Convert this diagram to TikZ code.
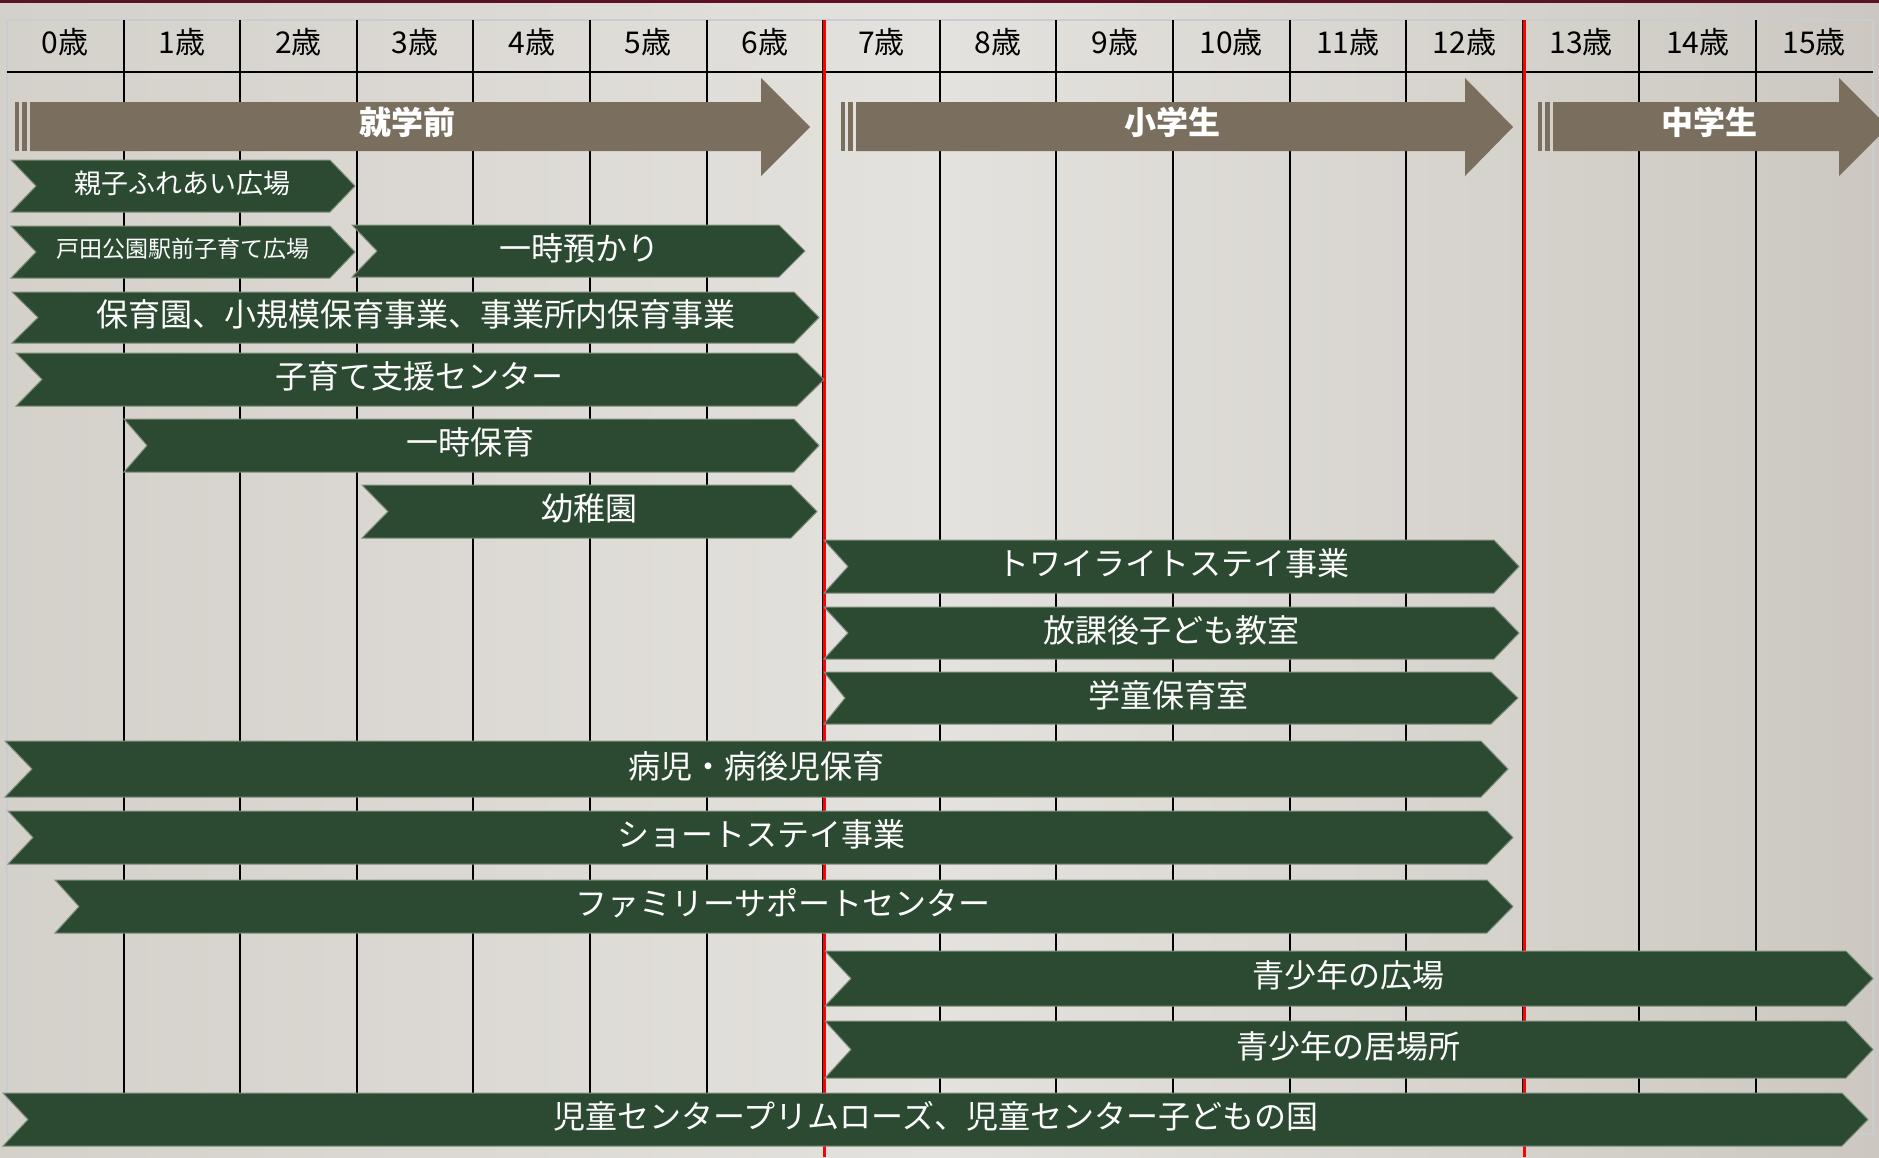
\documentclass[tikz,border=0pt]{standalone}
\usepackage{fontspec}
\setmainfont{Noto Sans CJK JP}
\definecolor{barg}{HTML}{2C4A31}
\definecolor{baredge}{HTML}{7F8E7C}
\definecolor{catc}{HTML}{7A6F5F}
\definecolor{bandc}{HTML}{5C1127}
\definecolor{framec}{HTML}{C9CDD1}
\definecolor{redl}{HTML}{FF0000}
\definecolor{bgl}{HTML}{D4D0CA}
\definecolor{bgm}{HTML}{E4E2DE}
\definecolor{bgr}{HTML}{CCC8C1}
\newcommand\lbig{\fontsize{16pt}{18pt}\selectfont}
\newcommand\lmid{\fontsize{13.5pt}{15pt}\selectfont}
\newcommand\lsml{\fontsize{11.5pt}{13pt}\selectfont}
% name, L, N, B, T, top, bot, textx, text
\newcommand\chevbar[9]{%
  \filldraw[barbox] (#2,#6) -- (#4,#6) -- (#5,{(#6+#7)/2}) -- (#4,#7) -- (#2,#7) -- (#3,{(#6+#7)/2}) -- cycle;
  \node[barlbl] (#1) at (#8,{(#6+#7)/2-3}) {#9};
}
% name, stripe1 start, body start, body end, tip, textx, text
\newcommand\catarrow[7]{%
  \fill[catc] (#2,102) rectangle ({#2+3.5},151);
  \fill[catc] ({#2+7},102) rectangle ({#2+12},151);
  \fill[catc] (#3,102) -- (#4,102) -- (#4,78) -- (#5,127) -- (#4,176) -- (#4,151) -- (#3,151) -- cycle;
  \node[catlbl] (#1) at (#6,122) {#7};
}
\tikzset{
  barbox/.style={fill=barg, draw=baredge, line width=0.5pt},
  barlbl/.style={text=white, inner sep=0pt, font=\lbig},
  catlbl/.style={text=white, inner sep=0pt, font=\fontsize{16pt}{18pt}\selectfont\bfseries},
  hdr/.style={text=black, inner sep=0pt, font=\fontsize{15pt}{17pt}\selectfont},
  gridl/.style={draw=black, line width=1pt},
  redline/.style={draw=redl, line width=1.5pt},
}
\begin{document}
\begin{tikzpicture}[x=0.5pt, y=-0.5pt]
\useasboundingbox (0,0) rectangle (1879,1157);
\clip (0,0) rectangle (1879,1157);
\shade[left color=bgl, right color=bgr, middle color=bgm] (0,0) rectangle (1879,1157);
\fill[bandc] (0,0) rectangle (1879,3);
% frame
\draw[framec, line width=0.8pt] (7,20) rectangle (1873,1134);
% grid lines
\foreach \i in {1,...,15} {
  \draw[gridl] ({7+116.6*\i},20) -- ({7+116.6*\i},1093);
}
\draw[gridl] (7,72) -- (1873,72);
% red lines
\draw[redline] ({7+116.6*7+1.5},20) -- ({7+116.6*7+1.5},1157);
\draw[redline] ({7+116.6*13+1.5},20) -- ({7+116.6*13+1.5},1157);
% header labels
\foreach \i in {0,...,15} {
  \node[hdr] (h\i) at ({7+116.6*\i+58.3},42) {\i 歳};
}
% category arrows
\catarrow{pre}{15}{30}{761}{810}{407}{就学前}
\catarrow{elem}{841}{856}{1465}{1513}{1172}{小学生}
\catarrow{jhs}{1538}{1553}{1839}{1888}{1709}{中学生}
% bars
\chevbar{b1}{11}{36}{330}{355}{160}{212}{182}{\lmid 親子ふれあい広場}
\chevbar{b2}{11}{36}{330}{355}{226}{278}{183}{\lsml 戸田公園駅前子育て広場}
\chevbar{b3}{352}{377}{779}{805}{225}{277}{579}{一時預かり}
\chevbar{b4}{12}{38}{794}{819}{292}{343}{416}{保育園、小規模保育事業、事業所内保育事業}
\chevbar{b5}{16}{42}{797}{824}{353}{406}{419}{子育て支援センター}
\chevbar{b6}{124}{147}{794}{819}{419}{472}{470}{一時保育}
\chevbar{b7}{362}{388}{791}{817}{485}{538}{589}{幼稚園}
\chevbar{b8}{824}{848}{1494}{1519}{540}{593}{1173}{トワイライトステイ事業}
\chevbar{b9}{824}{848}{1494}{1519}{607}{659}{1171}{放課後子ども教室}
\chevbar{b10}{824}{845}{1491}{1518}{672}{724}{1168}{学童保育室}
\chevbar{b11}{5}{32}{1481}{1508}{741}{797}{756}{病児・病後児保育}
\chevbar{b12}{8}{33}{1487}{1513}{811}{864}{761}{ショートステイ事業}
\chevbar{b13}{55}{79}{1487}{1513}{880}{933}{783}{ファミリーサポートセンター}
\chevbar{b14}{825}{851}{1846}{1873}{951}{1006}{1348}{青少年の広場}
\chevbar{b15}{825}{851}{1846}{1873}{1021}{1078}{1348}{青少年の居場所}
\chevbar{b16}{3}{28}{1842}{1868}{1093}{1146}{936}{児童センタープリムローズ、児童センター子どもの国}
\end{tikzpicture}
\end{document}
